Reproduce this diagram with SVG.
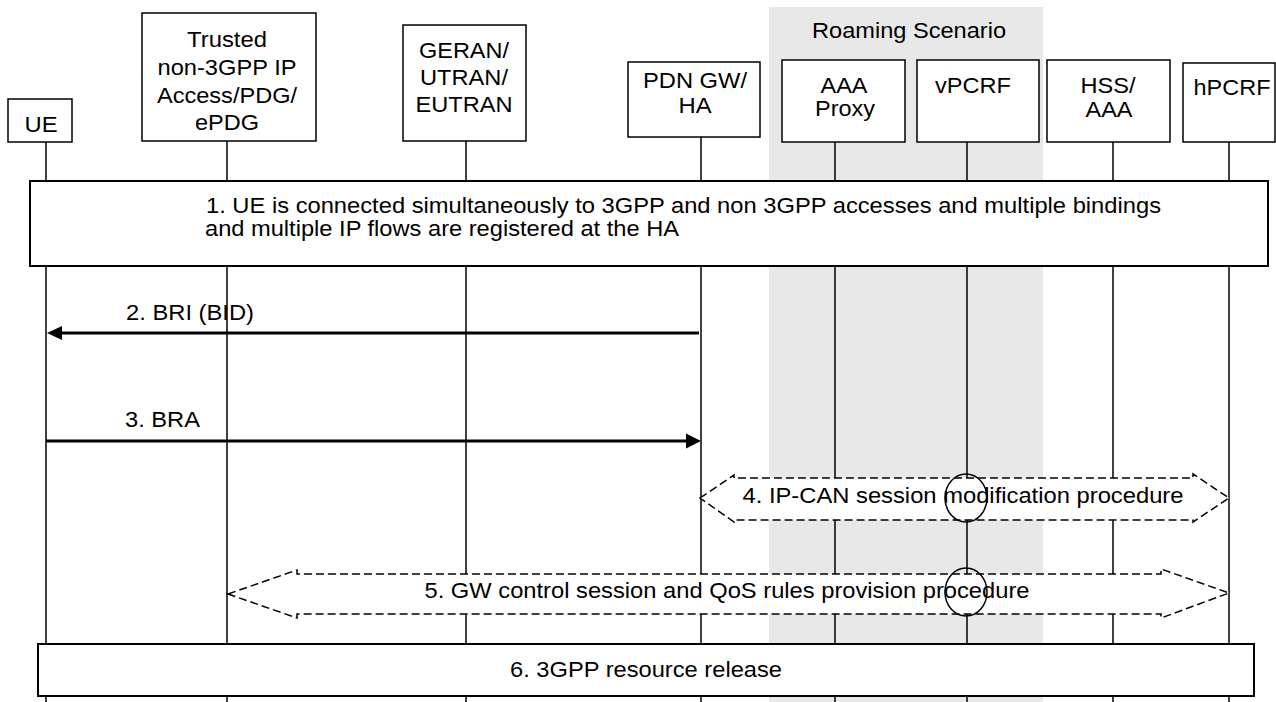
<svg xmlns="http://www.w3.org/2000/svg" width="1276" height="702" viewBox="0 0 1276 702">
<style>
text{font-family:"Liberation Sans",Arial,Helvetica,sans-serif;font-size:22px;fill:#000}
.c{text-anchor:middle}
.box{fill:#fff;stroke:#000;stroke-width:1.5}
.life{stroke:#000;stroke-width:1.5;fill:none}
.step{fill:#fff;stroke:#000;stroke-width:2}
.proc{fill:#fff;stroke:#000;stroke-width:1.5;stroke-dasharray:8 4}
.msg{stroke:#000;stroke-width:3;fill:none}
.head{fill:#000;stroke:none}
.cross{fill:none;stroke:#000;stroke-width:1.5}
</style>
<rect id="roaming-area" x="769" y="7" width="274" height="695" fill="#e8e8e8"/>
<text x="909" y="38" class="c" textLength="194" lengthAdjust="spacingAndGlyphs">Roaming Scenario</text>

<g id="ue">
<line class="life" x1="46" y1="142" x2="46" y2="702"/>
<rect class="box" x="8" y="99" width="64" height="43"/>
<text x="41" y="132" class="c" textLength="33" lengthAdjust="spacingAndGlyphs">UE</text>
</g>
<g id="trusted">
<line class="life" x1="227" y1="141" x2="227" y2="702"/>
<rect class="box" x="142" y="13" width="174" height="128"/>
<text class="c" x="227" y="47" textLength="80" lengthAdjust="spacingAndGlyphs">Trusted</text>
<text class="c" x="227" y="75" textLength="139" lengthAdjust="spacingAndGlyphs">non-3GPP IP</text>
<text class="c" x="227" y="103" textLength="140" lengthAdjust="spacingAndGlyphs">Access/PDG/</text>
<text class="c" x="227" y="130" textLength="64" lengthAdjust="spacingAndGlyphs">ePDG</text>
</g>
<g id="geran">
<line class="life" x1="466" y1="141" x2="466" y2="702"/>
<rect class="box" x="403" y="25" width="123" height="116"/>
<text class="c" x="464" y="58" textLength="90" lengthAdjust="spacingAndGlyphs">GERAN/</text>
<text class="c" x="464" y="85" textLength="88" lengthAdjust="spacingAndGlyphs">UTRAN/</text>
<text class="c" x="464" y="112" textLength="97" lengthAdjust="spacingAndGlyphs">EUTRAN</text>
</g>
<g id="pdngw">
<line class="life" x1="701" y1="137" x2="701" y2="702"/>
<rect class="box" x="628" y="62" width="132" height="75"/>
<text class="c" x="695" y="88" textLength="104" lengthAdjust="spacingAndGlyphs">PDN GW/</text>
<text class="c" x="695" y="113" textLength="33" lengthAdjust="spacingAndGlyphs">HA</text>
</g>
<g id="aaaproxy">
<line class="life" x1="835" y1="142" x2="835" y2="702"/>
<rect class="box" x="782" y="60" width="123" height="82"/>
<text class="c" x="844" y="93" textLength="47" lengthAdjust="spacingAndGlyphs">AAA</text>
<text class="c" x="845" y="116" textLength="60" lengthAdjust="spacingAndGlyphs">Proxy</text>
</g>
<g id="vpcrf">
<line class="life" x1="967" y1="142" x2="967" y2="702"/>
<rect class="box" x="917" y="60" width="122" height="82"/>
<text class="c" x="973" y="93" textLength="76" lengthAdjust="spacingAndGlyphs">vPCRF</text>
</g>
<g id="hss">
<line class="life" x1="1113" y1="142" x2="1113" y2="702"/>
<rect class="box" x="1047" y="60" width="123" height="82"/>
<text class="c" x="1108" y="93" textLength="55" lengthAdjust="spacingAndGlyphs">HSS/</text>
<text class="c" x="1109" y="117" textLength="47" lengthAdjust="spacingAndGlyphs">AAA</text>
</g>
<g id="hpcrf">
<line class="life" x1="1229" y1="142" x2="1229" y2="702"/>
<rect class="box" x="1183" y="63" width="92" height="79"/>
<text class="c" x="1232" y="95" textLength="77" lengthAdjust="spacingAndGlyphs">hPCRF</text>
</g>

<g id="step1">
<rect class="step" x="30" y="181" width="1238" height="85"/>
<text x="206" y="213" textLength="955" lengthAdjust="spacingAndGlyphs">1. UE is connected simultaneously to 3GPP and non 3GPP accesses and multiple bindings</text>
<text x="205" y="236" textLength="474" lengthAdjust="spacingAndGlyphs">and multiple IP flows are registered at the HA</text>
</g>

<g id="connectors">
<g id="msg2">
<line class="msg" x1="699" y1="333" x2="60" y2="333"/>
<polygon class="head" points="47,333 62,326 62,340"/>
<text x="126" y="320" textLength="128" lengthAdjust="spacingAndGlyphs">2. BRI (BID)</text>
</g>
<g id="msg3">
<line class="msg" x1="46" y1="441" x2="688" y2="441"/>
<polygon class="head" points="701,441 686,433.5 686,448.5"/>
<text x="125" y="427" textLength="75" lengthAdjust="spacingAndGlyphs">3. BRA</text>
</g>
<g id="proc4">
<polygon class="proc" points="700,498 734,475 734,478 1193,478 1193,474 1229,498 1193,522 1193,520 734,520 734,522"/>
<text class="c" x="963" y="503" textLength="441" lengthAdjust="spacingAndGlyphs">4. IP-CAN session modification procedure</text>
<ellipse class="cross" cx="966" cy="498" rx="21" ry="24"/>
</g>
<g id="proc5">
<polygon class="proc" points="228,594 297,570 297,574 1161,574 1161,569 1229,593 1161,618 1161,614 297,614 297,618"/>
<text class="c" x="727" y="598" textLength="605" lengthAdjust="spacingAndGlyphs">5. GW control session and QoS rules provision procedure</text>
<ellipse class="cross" cx="966" cy="592" rx="21" ry="24"/>
</g>
</g>

<g id="step6">
<rect class="step" x="38" y="644" width="1216" height="52"/>
<text class="c" x="646" y="677" textLength="272" lengthAdjust="spacingAndGlyphs">6. 3GPP resource release</text>
</g>
</svg>
